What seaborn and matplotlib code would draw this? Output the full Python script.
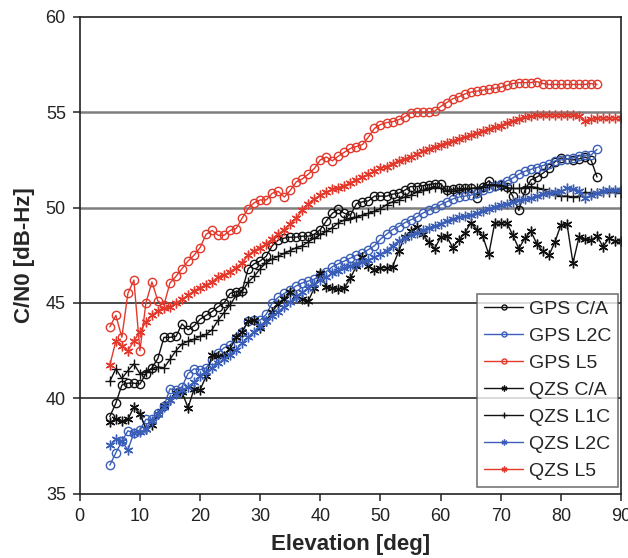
import numpy as np
import pandas as pd
import seaborn as sns
import matplotlib.pyplot as plt

# elevation grids
elev_gps = list(range(5, 87))
elev_qzs = list(range(5, 91))

gps_ca = [39.05, 39.75, 40.7, 40.8, 40.8, 40.75, 41.3, 41.6, 42.1, 43.2,
          43.2, 43.25, 43.9, 43.6, 43.8, 44.15, 44.35, 44.55, 44.8, 45.0,
          45.5, 45.6, 45.65, 46.8, 47.05, 47.2, 47.45, 48.0, 48.3, 48.4,
          48.45, 48.45, 48.5, 48.5, 48.6, 48.85, 49.3, 49.7, 49.9, 49.7,
          49.6, 50.2, 50.3, 50.35, 50.6, 50.6, 50.6, 50.7, 50.75, 50.9,
          51.1, 51.1, 51.15, 51.2, 51.25, 51.25, 50.9, 50.95, 51.0, 51.0,
          51.0, 50.5, 51.1, 51.4, 51.15, 51.2, 51.1, 50.6, 49.85, 50.9,
          51.45, 51.6, 51.8, 52.05, 52.4, 52.6, 52.55, 52.5, 52.55, 52.65,
          52.5, 51.6]
gps_l2c = [36.5, 37.15, 37.75, 38.3, 38.2, 38.35, 38.9, 38.9, 39.25, 39.6,
           40.5, 40.45, 40.6, 41.3, 41.55, 41.5, 41.6, 42.0, 42.4, 42.65,
           42.8, 43.15, 43.5, 44.05, 44.1, 44.1, 44.4, 45.0, 45.3, 45.5,
           45.7, 45.9, 46.05, 46.15, 46.25, 46.45, 46.65, 46.9, 47.05, 47.2,
           47.35, 47.5, 47.6, 47.8, 48.0, 48.35, 48.6, 48.85, 49.0, 49.2,
           49.35, 49.5, 49.7, 49.85, 50.0, 50.15, 50.3, 50.45, 50.55, 50.6,
           50.65, 50.75, 50.9, 51.0, 51.15, 51.25, 51.4, 51.55, 51.75, 51.9,
           52.0, 52.1, 52.2, 52.3, 52.45, 52.5, 52.55, 52.6, 52.7, 52.75,
           52.75, 53.05]
gps_l5 = [43.75, 44.35, 43.2, 45.5, 46.2, 42.5, 45.0, 46.1, 45.1, 44.9,
          46.05, 46.4, 46.8, 47.2, 47.5, 47.9, 48.6, 48.8, 48.55, 48.55,
          48.8, 48.9, 49.45, 49.95, 50.25, 50.4, 50.4, 50.75, 50.85, 50.55,
          50.9, 51.35, 51.5, 51.75, 52.05, 52.5, 52.65, 52.45, 52.7, 52.9,
          53.1, 53.2, 53.3, 53.7, 54.15, 54.35, 54.45, 54.5, 54.6, 54.75,
          54.95, 55.0, 55.0, 55.0, 55.05, 55.3, 55.5, 55.7, 55.8, 55.95,
          56.05, 56.1, 56.15, 56.2, 56.25, 56.3, 56.4, 56.5, 56.55, 56.55,
          56.55, 56.6, 56.5, 56.45, 56.45, 56.45, 56.45, 56.45, 56.45, 56.45,
          56.5, 56.45]
qzs_ca = [38.75, 38.9, 38.8, 38.9, 39.55, 39.2, 38.4, 38.6, 39.2, 39.6,
          39.9, 40.3, 40.35, 39.5, 40.5, 40.45, 41.15, 42.3, 42.2, 42.2,
          42.6, 43.2, 43.5, 44.05, 44.1, 43.7, 44.05, 44.55, 44.95, 45.2,
          45.55, 45.35, 45.2, 45.1, 45.8, 46.55, 45.85, 45.8, 45.75, 45.8,
          46.3, 46.95, 47.4, 46.95, 46.75, 46.85, 46.85, 46.9, 47.7, 48.45,
          48.75, 49.0, 48.6, 48.2, 47.85, 48.45, 48.5, 47.9, 48.3, 48.65,
          49.2, 48.85, 48.5, 47.55, 49.2, 49.2, 49.2, 48.55, 47.85, 48.4,
          48.75, 48.1, 47.7, 47.5, 48.2, 49.1, 49.15, 47.1, 48.45, 48.35,
          48.3, 48.5, 47.95, 48.4, 48.25, 48.25]
qzs_l1c = [40.9, 41.55, 41.05, 41.45, 41.8, 41.3, 41.4, 41.55, 41.65, 41.6,
           42.05, 42.5, 42.85, 43.0, 43.1, 43.25, 43.35, 43.6, 44.1, 44.5,
           44.9, 45.4, 45.6, 46.1, 46.4, 46.8, 47.1, 47.3, 47.45, 47.6,
           47.75, 47.9, 48.0, 48.2, 48.4, 48.6, 48.75, 48.95, 49.2, 49.35,
           49.45, 49.5, 49.6, 49.7, 49.8, 49.95, 50.15, 50.3, 50.4, 50.55,
           50.65, 50.8, 50.9, 51.0, 51.1, 51.0, 50.85, 50.85, 50.9, 50.95,
           51.0, 51.05, 51.1, 51.2, 51.2, 51.15, 51.05, 51.0, 51.0, 51.05,
           51.1, 51.05, 50.95, 50.8, 50.7, 50.6, 50.6, 50.55, 50.6, 50.8,
           50.75, 50.75, 50.8, 50.8, 50.8, 50.75]
qzs_l2c = [37.55, 37.85, 37.75, 37.3, 38.2, 38.25, 38.4, 38.8, 39.2, 39.55,
           39.9, 40.25, 40.45, 40.6, 40.85, 41.15, 41.4, 41.6, 41.85, 42.05,
           42.25, 42.55, 42.9, 43.2, 43.5, 43.8, 44.05, 44.3, 44.55, 44.8,
           45.05, 45.3, 45.55, 45.8, 46.0, 46.2, 46.35, 46.55, 46.7, 46.85,
           46.95, 47.05, 47.15, 47.25, 47.4, 47.55, 47.75, 48.0, 48.25, 48.4,
           48.55, 48.65, 48.8, 48.95, 49.05, 49.15, 49.3, 49.4, 49.5, 49.55,
           49.6, 49.7, 49.8, 49.95, 50.05, 50.15, 50.2, 50.3, 50.4, 50.45,
           50.5, 50.6, 50.7, 50.75, 50.8, 50.85, 51.0, 50.95, 50.85, 50.5,
           50.65, 50.75, 50.85, 50.9, 50.9, 50.9]
qzs_l5 = [41.75, 43.0, 42.75, 42.5, 43.0, 43.5, 44.0, 44.35, 44.6, 44.75,
          44.8, 45.0, 45.2, 45.4, 45.65, 45.8, 45.95, 46.1, 46.35, 46.45,
          46.65, 46.85, 47.1, 47.5, 47.75, 47.9, 48.1, 48.35, 48.6, 48.85,
          49.15, 49.45, 49.85, 50.2, 50.45, 50.65, 50.8, 50.95, 51.05, 51.15,
          51.3, 51.45, 51.6, 51.75, 51.9, 52.05, 52.15, 52.3, 52.45, 52.55,
          52.65, 52.8, 52.95, 53.05, 53.2, 53.3, 53.4, 53.5, 53.6, 53.7,
          53.8, 53.9, 54.0, 54.1, 54.2, 54.3, 54.45, 54.55, 54.65, 54.75,
          54.8, 54.85, 54.85, 54.85, 54.85, 54.85, 54.85, 54.85, 54.8, 54.55,
          54.65, 54.7, 54.7, 54.7, 54.7, 54.7]

RED = '#e3382c'
BLUE = '#3b5fb8'
BLACK = '#111111'
ASTER = (6, 2, 0)

# label, x, y, colour, marker, marker size
series = [
    ('GPS C/A', elev_gps, gps_ca, BLACK, 'o', 6.0),
    ('GPS L2C', elev_gps, gps_l2c, BLUE, 'o', 6.0),
    ('GPS L5', elev_gps, gps_l5, RED, 'o', 6.0),
    ('QZS C/A', elev_qzs, qzs_ca, BLACK, ASTER, 7.0),
    ('QZS L1C', elev_qzs, qzs_l1c, BLACK, '+', 7.0),
    ('QZS L2C', elev_qzs, qzs_l2c, BLUE, ASTER, 7.0),
    ('QZS L5', elev_qzs, qzs_l5, RED, ASTER, 7.0),
]

sns.set_style('white')
plt.rcParams['font.family'] = ['Liberation Sans', 'DejaVu Sans']

fig = plt.figure(figsize=(6.28, 5.58), dpi=100)
ax = fig.add_axes([0.127, 0.115, 0.862, 0.855])

for name, x, y, col, mk, ms in series:
    df = pd.DataFrame({'Elevation': x, 'CN0': y})
    sns.lineplot(data=df, x='Elevation', y='CN0', ax=ax, color=col, marker=mk,
                 markersize=ms, markerfacecolor='none', markeredgecolor=col,
                 markeredgewidth=1.0, linewidth=1.0, label=name)

ax.set_xlim(0, 90)
ax.set_ylim(35, 60)
ax.set_xticks(range(0, 91, 10))
ax.set_yticks(range(35, 61, 5))
for yv, gc, lw in [(40, '#3a3a3a', 1.3), (45, '#3a3a3a', 1.3),
                   (50, '#7f7f7f', 1.8), (55, '#7f7f7f', 1.8)]:
    ax.axhline(yv, color=gc, linewidth=lw, zorder=0)
for s in ax.spines.values():
    s.set_color('#222222')
    s.set_linewidth(1.2)
ax.tick_params(axis='both', direction='out', length=5, width=1.1,
               labelsize=13, colors='#222222', left=True, bottom=True, pad=5)
ax.set_xlabel('Elevation [deg]', fontsize=16, fontweight='bold', labelpad=7)
ax.set_ylabel('C/N0 [dB-Hz]', fontsize=16, fontweight='bold', labelpad=8)

leg = ax.legend(loc='lower right', fontsize=14, frameon=True, fancybox=False,
                edgecolor='#555555', handlelength=2.0, handletextpad=0.3,
                borderpad=0.35, labelspacing=0.48, markerscale=0.6,
                borderaxespad=0, bbox_to_anchor=(0.9945, 0.015))
leg.get_frame().set_linewidth(1.2)

fig.savefig('out.png', dpi=100)
